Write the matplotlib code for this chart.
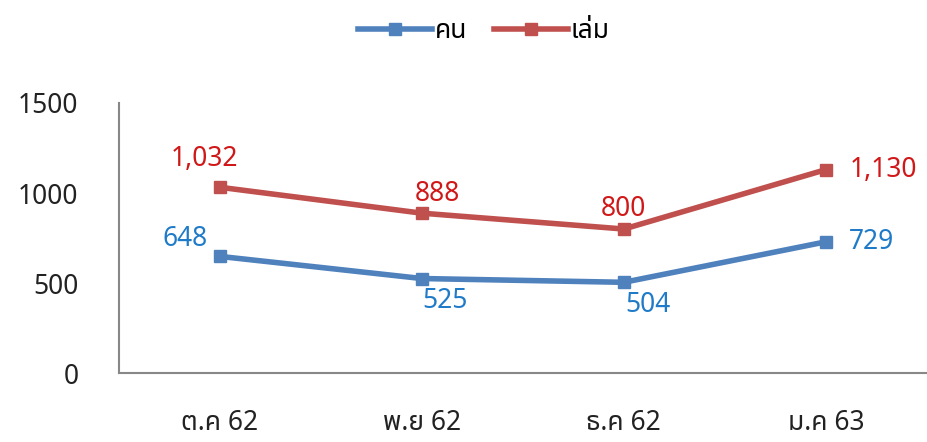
import matplotlib
matplotlib.use("Agg")
import matplotlib.pyplot as plt
from matplotlib import font_manager

months = ['ต.ค 62', 'พ.ย 62', 'ธ.ค 62', 'ม.ค 63']
people = [648, 525, 504, 729]
books = [1032, 888, 800, 1130]
people_labels = ['648', '525', '504', '729']
books_labels = ['1,032', '888', '800', '1,130']

# pick a font that has Thai glyphs if one is around
installed = {f.name for f in font_manager.fontManager.ttflist}
thai_candidates = ['Tahoma', 'Noto Sans Thai', 'Noto Sans Thai UI', 'Loma', 'Garuda',
                   'Norasi', 'Sarabun', 'TH Sarabun New', 'Kinnari', 'Waree', 'Umpush']
families = [f for f in thai_candidates if f in installed] + ['DejaVu Sans']
plt.rcParams['font.family'] = families

blue = '#4F81BD'
red = '#C0504D'
blue_txt = '#1F7BC8'
red_txt = '#D01818'
fs = 19

fig = plt.figure(figsize=(9.27, 4.42), dpi=100)
ax = fig.add_axes([0.128, 0.156, 0.872, 0.611])

x = list(range(len(months)))
ax.plot(x, people, color=blue, lw=4, marker='s', ms=9, label='คน')
ax.plot(x, books, color=red, lw=4, marker='s', ms=9, label='เล่ม')

ax.set_xlim(-0.5, 3.5)
ax.set_ylim(0, 1500)
ax.set_yticks([0, 500, 1000, 1500])
ax.set_xticks(x)
ax.set_xticklabels(months)
ax.tick_params(axis='both', length=0, labelsize=fs, colors='#222222')
ax.tick_params(axis='x', pad=26)
ax.tick_params(axis='y', pad=29)

for s in ['top', 'right']:
    ax.spines[s].set_visible(False)
for s in ['left', 'bottom']:
    ax.spines[s].set_color('#888888')
    ax.spines[s].set_linewidth(1.5)

# data label offsets in pixels (converted to points below)
p_off = [(-12, 17, 'right'), (23, -22, 'center'), (24, -23, 'center'), (23, 0, 'left')]
b_off = [(-15, 28, 'center'), (16, 19, 'center'), (0, 20, 'center'), (24, 0, 'left')]
k = 0.72
for i in x:
    dx, dy, ha = p_off[i]
    ax.annotate(people_labels[i], (i, people[i]), xytext=(dx * k, dy * k), textcoords='offset points',
                ha=ha, va='center', color=blue_txt, fontsize=fs)
    dx, dy, ha = b_off[i]
    ax.annotate(books_labels[i], (i, books[i]), xytext=(dx * k, dy * k), textcoords='offset points',
                ha=ha, va='center', color=red_txt, fontsize=fs)

fig.legend(loc='upper center', bbox_to_anchor=(0.522, 1.015), ncol=2, frameon=False,
           fontsize=fs, handlelength=2.8, handletextpad=0.1, columnspacing=1.0)

fig.savefig('out.png', dpi=100)
